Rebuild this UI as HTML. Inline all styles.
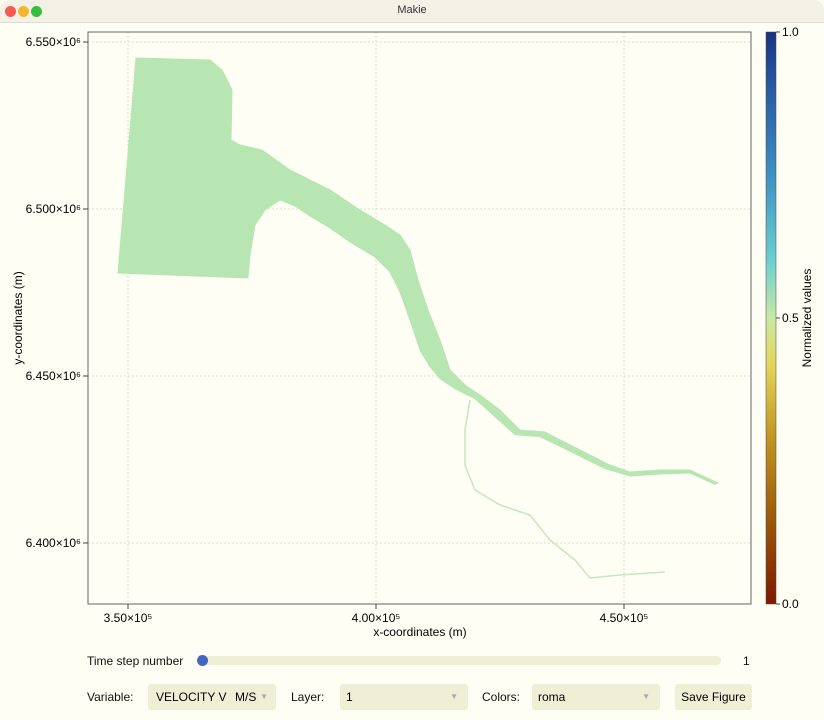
<!DOCTYPE html>
<html><head><meta charset="utf-8">
<style>
body{margin:0;width:824px;height:720px;overflow:hidden;background:#fdfdf2;font-family:"Liberation Sans",sans-serif;}
.win{position:absolute;left:0;top:0;width:824px;height:720px;border-radius:10px;overflow:hidden;background:#fefef4;}
.title{position:absolute;left:0;top:0;width:824px;height:22px;background:#f3f1e6;border-bottom:1px solid #dcdcd0;font-size:11px;text-align:center;line-height:21px;color:#333;}
.dot{position:absolute;top:6px;width:11px;height:11px;border-radius:50%;}
.ctl{position:absolute;font-size:12px;color:#111;white-space:nowrap;}
.box{position:absolute;background:#efefd6;height:26px;border-radius:3px;font-size:12px;line-height:26px;white-space:nowrap;overflow:hidden;}
</style></head><body>
<div class="win">
<div class="title">Makie
<div class="dot" style="left:5px;background:#f25a52"></div>
<div class="dot" style="left:18px;background:#f4b630"></div>
<div class="dot" style="left:31px;background:#33c03f"></div>
</div>
<svg id="chart" width="824" height="720" style="position:absolute;left:0;top:0">
<defs><linearGradient id="roma" x1="0" y1="1" x2="0" y2="0">
<stop offset="0" stop-color="#7e1900"/><stop offset="0.15" stop-color="#9c5a0a"/><stop offset="0.3" stop-color="#c39a25"/>
<stop offset="0.42" stop-color="#e4d65b"/><stop offset="0.5" stop-color="#c9e8a4"/><stop offset="0.6" stop-color="#6cd0d0"/>
<stop offset="0.75" stop-color="#3e90c2"/><stop offset="0.9" stop-color="#2a5aa3"/><stop offset="1" stop-color="#1a3384"/></linearGradient></defs>
<g id="grid"></g>
<g id="marks"></g>
<rect x="88" y="32" width="663" height="572" fill="none" stroke="#666" stroke-width="1"/>
<g id="axes"></g>
<rect x="766" y="32" width="10" height="572" fill="url(#roma)" stroke="#444" stroke-width="0.5"/>
<g id="cbticks"></g>
<text x="0" y="0" transform="translate(811,318) rotate(-90)" text-anchor="middle" font-size="12">Normalized values</text>
<text x="420" y="636" text-anchor="middle" font-size="12">x-coordinates (m)</text>
<text transform="translate(22,318) rotate(-90)" text-anchor="middle" font-size="12">y-coordinates (m)</text>
</svg>
<div class="ctl" style="left:87px;top:654px">Time step number</div>
<div style="position:absolute;left:200px;top:656px;width:521px;height:9px;background:#efefd6;border-radius:4px"></div>
<div style="position:absolute;left:197px;top:655px;width:11px;height:11px;background:#4466c4;border-radius:50%"></div>
<div class="ctl" style="left:743px;top:654px">1</div>
<div class="ctl" style="left:87px;top:690px">Variable:</div>
<div class="box" style="left:148px;top:684px;width:128px"><span style="position:absolute;left:8px">VELOCITY V</span><span style="position:absolute;left:87px">M/S</span><span style="position:absolute;right:8px;color:#aaa;font-size:8px">▼</span></div>
<div class="ctl" style="left:291px;top:690px">Layer:</div>
<div class="box" style="left:340px;top:684px;width:128px"><span style="position:absolute;left:6px">1</span><span style="position:absolute;right:10px;color:#aaa;font-size:8px">▼</span></div>
<div class="ctl" style="left:482px;top:690px">Colors:</div>
<div class="box" style="left:532px;top:684px;width:128px"><span style="position:absolute;left:6px">roma</span><span style="position:absolute;right:10px;color:#aaa;font-size:8px">▼</span></div>
<div class="box" style="left:675px;top:684px;width:77px;text-align:center">Save Figure</div>
</div>
<script>
const xTicks=[350,400,450];
const yTicks=[6400,6450,6500,6550];
const xTickLabels=["3.50×10⁵","4.00×10⁵","4.50×10⁵"];
const yTickLabels=["6.400×10⁶","6.450×10⁶","6.500×10⁶","6.550×10⁶"];
const cbTicks=[0,0.5,1];
const cbTickLabels=["0.0","0.5","1.0"];
const outlineX=[347.98,351.61,366.53,368.95,370.97,370.77,372.58,377.01,382.66,386.69,390.72,396.77,401.81,404.84,406.85,408.46,410.48,412.90,414.92,417.94,420.96,424.99,429.02,434.07,439.11,443.14,447.17,451.20,457.25,463.30,468.94,468.34,463.30,457.25,451.20,446.16,442.13,438.10,433.06,428.02,423.99,419.96,415.92,412.90,410.88,408.87,406.85,404.84,402.82,399.80,394.76,390.72,386.69,383.67,380.64,377.62,375.60,374.60,374.19];
const outlineY=[6480.84,6545.21,6544.61,6541.62,6535.63,6520.66,6519.16,6517.67,6511.68,6508.68,6505.69,6499.70,6495.21,6492.22,6487.72,6478.74,6469.76,6460.78,6451.80,6447.31,6444.31,6439.82,6433.83,6433.24,6429.34,6426.35,6423.35,6421.26,6421.86,6421.86,6417.97,6417.57,6420.96,6420.66,6420.06,6422.26,6425.25,6428.25,6431.84,6432.44,6437.83,6443.22,6446.21,6449.20,6452.80,6457.79,6466.77,6475.15,6481.14,6485.63,6490.12,6494.31,6497.90,6500.90,6502.69,6499.70,6495.21,6486.23,6479.34];
const branchX=[418.95,417.94,417.94,419.96,424.99,431.04,435.07,440.12,443.14,449.19,458.26];
const branchY=[6442.81,6433.83,6423.35,6415.87,6411.38,6408.38,6400.90,6394.91,6389.52,6390.42,6391.32];
const sx=v=>128+(v-350)*248/50;
const sy=v=>42+(6550-v)*167/50;
const cy=v=>604-v*572;
const NS="http://www.w3.org/2000/svg";
function mk(t,a,p){const e=document.createElementNS(NS,t);for(const k in a)e.setAttribute(k,a[k]);p.appendChild(e);return e;}
const grid=document.getElementById('grid'),axes=document.getElementById('axes'),marks=document.getElementById('marks'),cb=document.getElementById('cbticks');
xTicks.forEach((v,i)=>{
 const l=mk('line',{x1:sx(v),x2:sx(v),y1:32,y2:604,stroke:'#ddddc8','stroke-dasharray':'2,2'},grid);
 
 
 const t=mk('line',{x1:sx(v),x2:sx(v),y1:604,y2:609,stroke:'#444'},axes);
 
 
 const tx=mk('text',{x:sx(v),y:622,'text-anchor':'middle','font-size':12},axes);tx.textContent=xTickLabels[i];
 
 
});
yTicks.forEach((v,i)=>{
 const l=mk('line',{x1:88,x2:751,y1:sy(v),y2:sy(v),stroke:'#ddddc8','stroke-dasharray':'2,2'},grid);
 
 
 const t=mk('line',{x1:83,x2:88,y1:sy(v),y2:sy(v),stroke:'#444'},axes);
 
 
 const tx=mk('text',{x:81,y:sy(v)+4,'text-anchor':'end','font-size':12},axes);tx.textContent=yTickLabels[i];
 
 
});
cbTicks.forEach((v,i)=>{
 const t=mk('line',{x1:776,x2:780,y1:cy(v),y2:cy(v),stroke:'#444'},cb);
 
 
 const tx=mk('text',{x:782,y:cy(v)+4,'font-size':12},cb);tx.textContent=cbTickLabels[i];
 
 
});
const pts=outlineX.map((x,i)=>sx(x)+','+sy(outlineY[i])).join(' ');
const poly=mk('polygon',{points:pts,fill:'#b8e6b2',stroke:'#b8e6b2','stroke-width':1},marks);


const bp=branchX.map((x,i)=>sx(x)+','+sy(branchY[i])).join(' ');
const br=mk('polyline',{points:bp,fill:'none',stroke:'#c2e8be','stroke-width':1.5},marks);


</script>
</body></html>
